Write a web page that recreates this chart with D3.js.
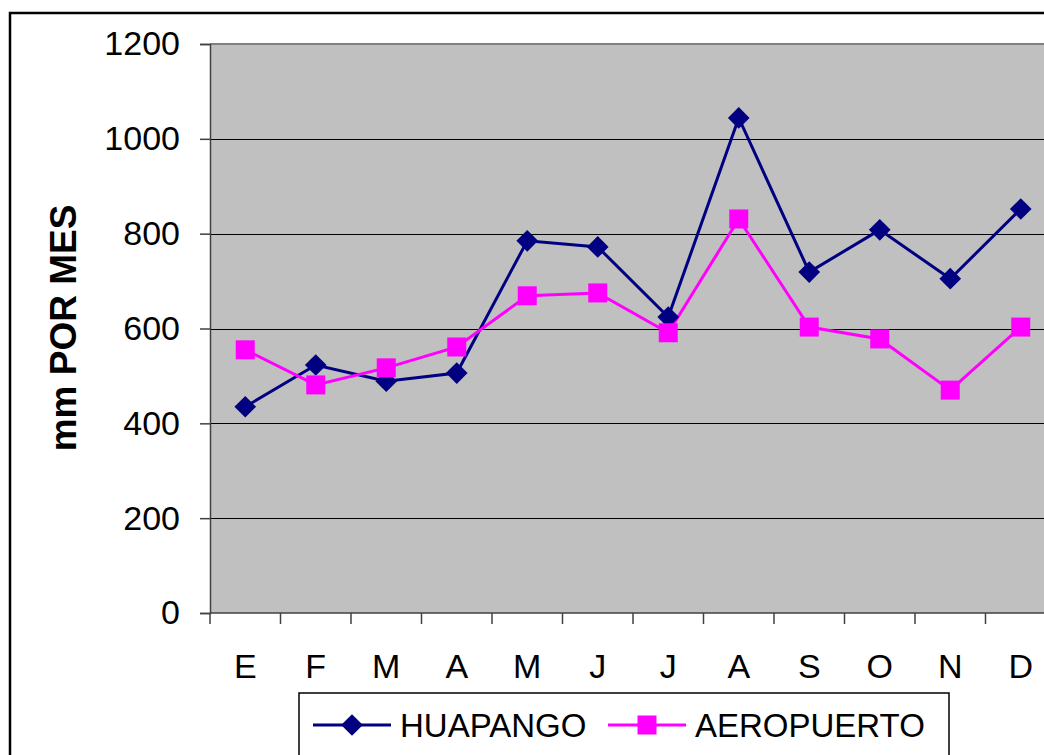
<!DOCTYPE html>
<html>
<head>
<meta charset="utf-8">
<script src="https://cdn.jsdelivr.net/npm/d3@7"></script>
<style>
  body { margin: 0; background: #fff; }
  svg { display: block; font-family: "Liberation Sans", Arial, sans-serif; }
</style>
</head>
<body>
<svg id="chart" width="1044" height="755"></svg>
<script>
// months (Spanish initials)
const months = ["E", "F", "M", "A", "M", "J", "J", "A", "S", "O", "N", "D"];
const huapango = [435, 523, 489, 506, 785, 772, 624, 1044, 719, 808, 705, 852];
const aeropuerto = [555, 481, 517, 561, 669, 675, 591, 831, 603, 578, 470, 603];
const yTicks = [0, 200, 400, 600, 800, 1000, 1200];

const plot = { left: 210, right: 1056, top: 44, bottom: 613 };
const navy = "#000080";
const magenta = "#ff00ff";

const svg = d3.select("#chart");

// outer chart border
svg.append("rect")
    .attr("x", 10).attr("y", 13)
    .attr("width", 1060).attr("height", 760)
    .attr("fill", "#fff")
    .attr("stroke", "#000")
    .attr("stroke-width", 2.5);

const x = d3.scaleBand()
    .domain(d3.range(months.length))
    .range([plot.left, plot.right]);

const y = d3.scaleLinear()
    .domain([0, 1200])
    .range([plot.bottom, plot.top]);

// plot background
svg.append("rect")
    .attr("x", plot.left).attr("y", plot.top)
    .attr("width", plot.right - plot.left)
    .attr("height", plot.bottom - plot.top)
    .attr("fill", "#c0c0c0");

// gridlines
svg.append("g")
    .selectAll("line")
    .data(yTicks.filter(d => d > 0 && d < 1200))
    .enter()
    .append("line")
    .attr("x1", plot.left).attr("x2", plot.right)
    .attr("y1", d => Math.round(y(d)) + 0.5)
    .attr("y2", d => Math.round(y(d)) + 0.5)
    .attr("stroke", "#000")
    .attr("stroke-width", 1);

// top border of plot
svg.append("line")
    .attr("x1", plot.left).attr("x2", plot.right)
    .attr("y1", plot.top).attr("y2", plot.top)
    .attr("stroke", "#808080")
    .attr("stroke-width", 2);

// y axis
const yAxis = svg.append("g")
    .attr("transform", `translate(${plot.left},0)`)
    .call(d3.axisLeft(y).tickValues(yTicks).tickSize(10).tickPadding(20).tickFormat(d3.format("d")));
yAxis.select(".domain").attr("stroke", "#404040").attr("stroke-width", 1.5);
yAxis.selectAll(".tick line").attr("stroke", "#404040").attr("stroke-width", 1.5);
yAxis.selectAll("text")
    .attr("font-size", 34)
    .attr("fill", "#000")
    .attr("font-family", "Liberation Sans, Arial, sans-serif");

// x axis: ticks between categories
const xAxisG = svg.append("g");
xAxisG.append("line")
    .attr("x1", plot.left).attr("x2", plot.right)
    .attr("y1", plot.bottom).attr("y2", plot.bottom)
    .attr("stroke", "#404040").attr("stroke-width", 1.5);
xAxisG.selectAll(".xtick")
    .data(d3.range(months.length + 1))
    .enter()
    .append("line")
    .attr("class", "xtick")
    .attr("x1", i => plot.left + i * x.step())
    .attr("x2", i => plot.left + i * x.step())
    .attr("y1", plot.bottom).attr("y2", plot.bottom + 11)
    .attr("stroke", "#404040").attr("stroke-width", 1.5);
xAxisG.selectAll(".xlabel")
    .data(months)
    .enter()
    .append("text")
    .attr("class", "xlabel")
    .attr("x", (d, i) => x(i) + x.bandwidth() / 2)
    .attr("y", 678)
    .attr("text-anchor", "middle")
    .attr("font-size", 34)
    .text(d => d);

// y axis title
svg.append("text")
    .attr("transform", "translate(76,328) rotate(-90)")
    .attr("text-anchor", "middle")
    .attr("font-size", 37)
    .attr("font-weight", "bold")
    .text("mm POR MES");

const cx = i => x(i) + x.bandwidth() / 2;
const line = d3.line().x((d, i) => cx(i)).y(d => y(d));

// HUAPANGO
svg.append("path")
    .datum(huapango)
    .attr("d", line)
    .attr("fill", "none")
    .attr("stroke", navy)
    .attr("stroke-width", 3);

// AEROPUERTO
svg.append("path")
    .datum(aeropuerto)
    .attr("d", line)
    .attr("fill", "none")
    .attr("stroke", magenta)
    .attr("stroke-width", 3);

const diamond = d3.symbol().type(d3.symbolDiamond2).size(300);

svg.append("g")
    .selectAll("path")
    .data(huapango)
    .enter()
    .append("path")
    .attr("d", diamond)
    .attr("transform", (d, i) => `translate(${cx(i)},${y(d)})`)
    .attr("fill", navy);

svg.append("g")
    .selectAll("rect")
    .data(aeropuerto)
    .enter()
    .append("rect")
    .attr("x", (d, i) => cx(i) - 9.5)
    .attr("y", d => y(d) - 9.5)
    .attr("width", 19).attr("height", 19)
    .attr("fill", magenta);

// legend
const legend = svg.append("g");
legend.append("rect")
    .attr("x", 299).attr("y", 693)
    .attr("width", 650).attr("height", 80)
    .attr("fill", "#fff")
    .attr("stroke", "#000")
    .attr("stroke-width", 1.5);

const legendItems = [
    { name: "HUAPANGO", color: navy, x0: 313, x1: 391, text: 400 },
    { name: "AEROPUERTO", color: magenta, x0: 608, x1: 686, text: 695 }
];
legendItems.forEach((it, k) => {
    legend.append("line")
        .attr("x1", it.x0).attr("x2", it.x1)
        .attr("y1", 725).attr("y2", 725)
        .attr("stroke", it.color).attr("stroke-width", 3);
    const mx = (it.x0 + it.x1) / 2;
    if (k === 0) {
        legend.append("path")
            .attr("d", diamond)
            .attr("transform", `translate(${mx},725)`)
            .attr("fill", it.color);
    } else {
        legend.append("rect")
            .attr("x", mx - 9.5).attr("y", 725 - 9.5)
            .attr("width", 19).attr("height", 19)
            .attr("fill", it.color);
    }
    legend.append("text")
        .attr("x", it.text).attr("y", 737)
        .attr("font-size", 33)
        .text(it.name);
});
</script>
</body>
</html>
